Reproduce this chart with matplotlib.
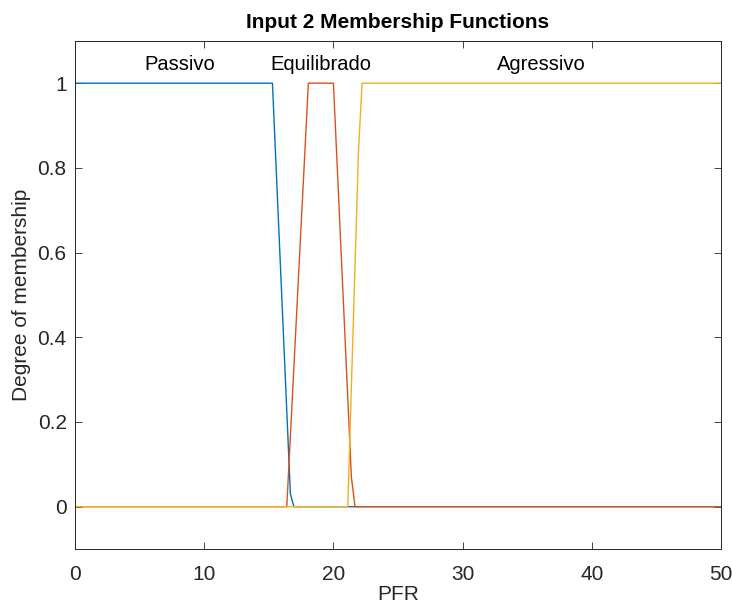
import matplotlib.pyplot as plt

plt.rcParams['font.family'] = ['Liberation Sans', 'DejaVu Sans']

# membership function vertices (PFR, degree)
passivo_x = [0, 15.28, 16.67, 16.94, 50]
passivo_y = [1, 1, 0.03, 0, 0]
equilibrado_x = [0, 16.39, 18.06, 20.0, 21.39, 21.67, 50]
equilibrado_y = [0, 0, 1, 1, 0.07, 0, 0]
agressivo_x = [0, 21.11, 21.94, 22.22, 50]
agressivo_y = [0, 0, 0.84, 1, 1]

mf_names = ['Passivo', 'Equilibrado', 'Agressivo']
label_x = [8.1, 19.0, 36.1]
label_y = 1.045

x_ticks = [0, 10, 20, 30, 40, 50]
y_ticks = [0, 0.2, 0.4, 0.6, 0.8, 1]

ax_color = '#262626'

fig = plt.figure(figsize=(7.32, 6.05), dpi=100)
ax = fig.add_axes([0.1025, 0.0925, 0.8825, 0.84])

ax.plot(passivo_x, passivo_y, color='#0072BD', lw=1.0)
ax.plot(equilibrado_x, equilibrado_y, color='#D95319', lw=1.0)
ax.plot(agressivo_x, agressivo_y, color='#EDB120', lw=1.0)

for name, lx in zip(mf_names, label_x):
    ax.text(lx, label_y, name, ha='center', va='center', fontsize=14.5, color='black')

ax.set_xlim(0, 50)
ax.set_ylim(-0.1, 1.1)
ax.set_xticks(x_ticks)
ax.set_yticks(y_ticks)
ax.set_yticklabels(['0', '0.2', '0.4', '0.6', '0.8', '1'])

ax.tick_params(direction='in', top=True, right=True, length=5, width=0.6,
               colors=ax_color, labelsize=15)
ax.tick_params(axis='x', pad=11.5)
ax.tick_params(axis='y', pad=6)
for sp in ax.spines.values():
    sp.set_color(ax_color)
    sp.set_linewidth(0.7)

ax.set_xlabel('PFR', fontsize=15, color=ax_color, labelpad=1)
ax.set_ylabel('Degree of membership', fontsize=15, color=ax_color, labelpad=5)
ax.set_title('Input 2 Membership Functions', fontsize=15, fontweight='bold', pad=9)

fig.savefig('out.png', dpi=100)
